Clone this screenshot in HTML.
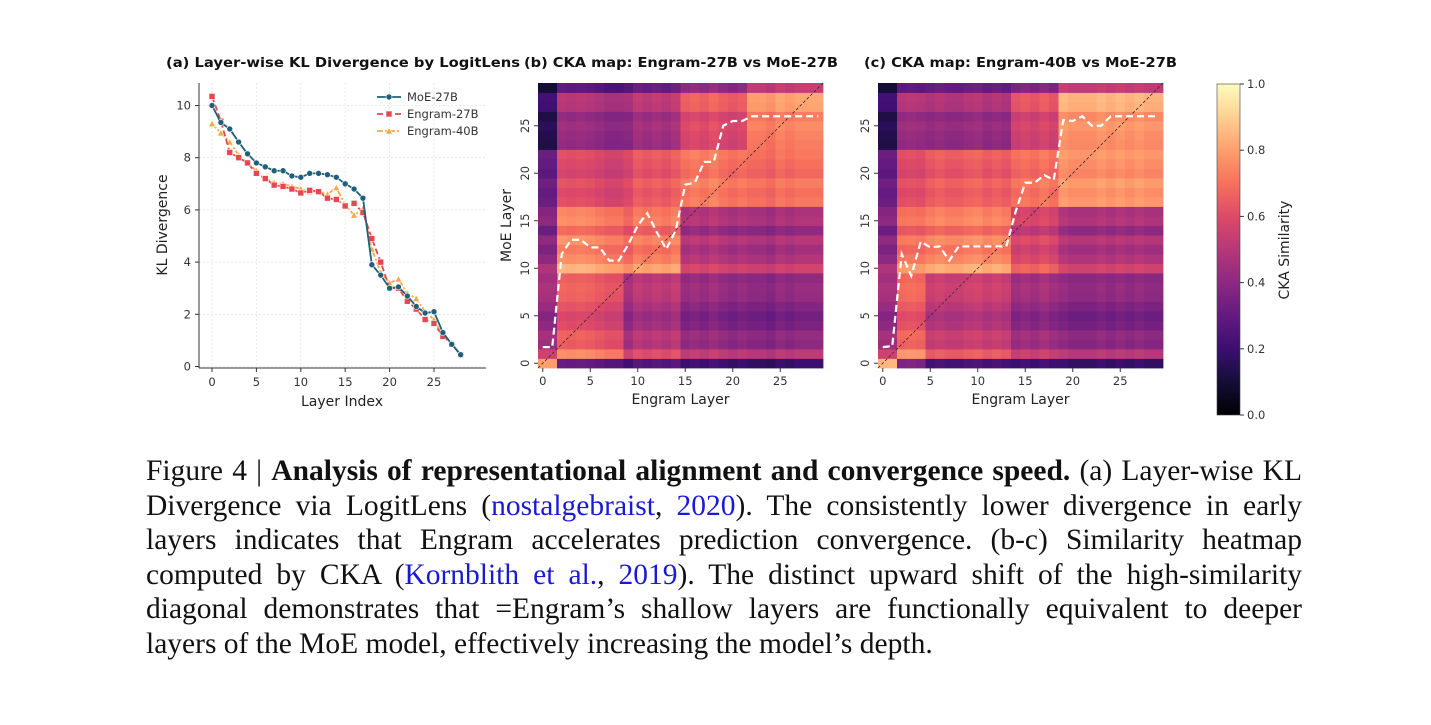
<!DOCTYPE html>
<html><head><meta charset="utf-8">
<style>
html,body{margin:0;padding:0;background:#fff;}
body{width:1431px;height:725px;position:relative;overflow:hidden;}
svg{position:absolute;left:0;top:0;}
.cap{position:absolute;left:146px;width:1156px;font-family:"Liberation Serif",serif;font-size:29.5px;color:#111;white-space:nowrap;text-align:justify;text-align-last:justify;line-height:30px;}
.cap.last{text-align-last:left;}
.cap a{color:#1a1ad6;text-decoration:none;}
</style></head><body>
<svg id="fig" width="1431" height="725" font-family="DejaVu Sans, Liberation Sans, sans-serif"></svg>
<div class="cap" style="top:456px">Figure 4 | <b>Analysis of representational alignment and convergence speed.</b> (a) Layer-wise KL</div>
<div class="cap" style="top:491px">Divergence via LogitLens (<a>nostalgebraist</a>, <a>2020</a>). The consistently lower divergence in early</div>
<div class="cap" style="top:525px">layers indicates that Engram accelerates prediction convergence. (b-c) Similarity heatmap</div>
<div class="cap" style="top:560px">computed by CKA (<a>Kornblith et al.</a>, <a>2019</a>). The distinct upward shift of the high-similarity</div>
<div class="cap" style="top:594px">diagonal demonstrates that =Engram’s shallow layers are functionally equivalent to deeper</div>
<div class="cap last" style="top:629px">layers of the MoE model, effectively increasing the model’s depth.</div>
<script>
// ---- Chart (a) data ----
const klLayers = [0,1,2,3,4,5,6,7,8,9,10,11,12,13,14,15,16,17,18,19,20,21,22,23,24,25,26,27,28];
const klMoE27 = [10.0,9.35,9.1,8.6,8.15,7.8,7.65,7.5,7.5,7.3,7.25,7.4,7.4,7.35,7.25,7.0,6.8,6.45,3.9,3.5,3.0,3.05,2.7,2.3,2.05,2.1,1.3,0.85,0.45];
const klEngram27 = [10.35,9.4,8.2,8.0,7.8,7.4,7.2,6.95,6.9,6.8,6.65,6.75,6.7,6.45,6.4,6.15,6.25,5.9,4.9,4.0,3.0,3.0,2.5,2.2,1.8,1.65,1.15,0.85,0.45];
const klEngram40 = [9.3,8.95,8.6,8.1,7.8,7.5,7.2,7.05,7.0,6.9,6.8,6.7,6.7,6.6,6.85,6.2,5.8,6.05,4.5,3.6,3.2,3.35,2.8,2.6,2.1,1.8,1.15,0.9,0.45];
const klXTicks = [0,5,10,15,20,25];
const klYTicks = [0,2,4,6,8,10];
// ---- Heatmap data (block levels: rows bottom->top bands, cols left->right bands) ----
const hbRowBands = [[0,0],[1,9],[10,16],[17,22],[23,28],[29,29]];
const hbColBands = [[0,1],[2,8],[9,14],[15,21],[22,29]];
const hbLevels = [[0.80,0.28,0.25,0.20,0.18],[0.44,0.62,0.48,0.40,0.38],[0.38,0.72,0.70,0.47,0.45],[0.30,0.57,0.62,0.70,0.68],[0.16,0.42,0.45,0.60,0.74],[0.10,0.26,0.30,0.40,0.52]];
const hbRowJit = [0,0.12,0,0.02,-0.04,-0.06,-0.02,0.02,0.03,0.01,0.1,0.02,-0.02,0.03,-0.06,0.02,0,0.02,0,0.03,-0.02,0,0.02,-0.03,-0.02,0,-0.03,0.05,0.06,0];
const hbColJit = [0,0,0.03,0.02,0.03,0.02,0,-0.02,-0.02,-0.04,0.02,0,0.02,0,0.03,0,0.02,0,0.03,0,-0.02,0,0,0,-0.02,0.02,0,0.02,0.02,0.02];
const hbPath = [1.7,1.7,11.5,13,13,12.2,12.2,10.8,10.8,12.5,14.5,15.8,13.8,12,14,18.8,19,21.2,21.2,25,25.5,25.5,26,26,26,26,26,26,26,26];
const hcRowBands = [[0,0],[1,9],[10,16],[17,22],[23,28],[29,29]];
const hcColBands = [[0,1],[2,4],[5,13],[14,18],[19,29]];
const hcLevels = [[0.85,0.34,0.22,0.20,0.18],[0.44,0.64,0.52,0.42,0.38],[0.38,0.67,0.72,0.56,0.46],[0.30,0.57,0.63,0.68,0.76],[0.16,0.42,0.42,0.57,0.78],[0.10,0.26,0.30,0.36,0.52]];
const hcRowJit = hbRowJit;
const hcColJit = [0,0,0.02,0.03,0.02,0,0.02,0,0,0.02,0.03,0,0.02,0,0,0.02,0,0.03,0,0.02,0,0,0,0.02,0,0.02,0,0.02,0,0];
const hcPath = [1.7,1.8,11.5,9.2,12.8,12.2,12.3,10.8,12.3,12.3,12.3,12.3,12.3,12.3,16,19,19,19.8,19.3,25.6,25.5,26,25,25,26,26,26,26,26,26];
const hmTicks = [0,5,10,15,20,25];
const cbTicks = [0,0.2,0.4,0.6,0.8,1.0];

const NS="http://www.w3.org/2000/svg";
const svg=document.getElementById('fig');
function mk(tag,attrs,parent,txt){const e=document.createElementNS(NS,tag);for(const k in attrs)e.setAttribute(k,attrs[k]);if(txt!==undefined)e.textContent=txt;(parent||svg).appendChild(e);return e;}
const magma=[[0,0,4],[20,14,54],[59,15,112],[100,26,128],[140,41,129],[183,55,121],[222,73,104],[247,112,92],[254,159,109],[254,207,146],[252,253,191]];
function cmap(v){v=Math.max(0,Math.min(1,v));const t=v*10,i=Math.min(9,Math.floor(t)),f=t-i;const a=magma[i],b=magma[i+1];return `rgb(${Math.round(a[0]+(b[0]-a[0])*f)},${Math.round(a[1]+(b[1]-a[1])*f)},${Math.round(a[2]+(b[2]-a[2])*f)})`;}

// titles
let t;
t=mk('text',{x:166,y:67,'font-size':13.5,'font-weight':'bold',textLength:354,lengthAdjust:'spacingAndGlyphs',fill:'#111'},svg,'(a) Layer-wise KL Divergence by LogitLens');

t=mk('text',{x:524,y:67,'font-size':13.5,'font-weight':'bold',textLength:314,lengthAdjust:'spacingAndGlyphs',fill:'#111'},svg,'(b) CKA map: Engram-27B vs MoE-27B');

t=mk('text',{x:864,y:67,'font-size':13.5,'font-weight':'bold',textLength:313,lengthAdjust:'spacingAndGlyphs',fill:'#111'},svg,'(c) CKA map: Engram-40B vs MoE-27B');


// ---- Chart (a) ----
const ax={x0:199,x1:486,y0:368,y1:83};
const sx=v=>212+v*8.88, sy=v=>366.5-v*26.1;
const ga=mk('g',{});

klXTicks.forEach(v=>{const g=mk('line',{x1:sx(v),x2:sx(v),y1:ax.y1,y2:ax.y0,stroke:'#e4e4e4','stroke-width':0.8,'stroke-dasharray':'2,2'},ga);
 mk('line',{x1:sx(v),x2:sx(v),y1:ax.y0,y2:ax.y0+4,stroke:'#333'},ga);
 const l=mk('text',{x:sx(v),y:ax.y0+18,'font-size':11.5,'text-anchor':'middle',fill:'#333'},ga,String(v));});
klYTicks.forEach(v=>{const g=mk('line',{x1:ax.x0,x2:ax.x1,y1:sy(v),y2:sy(v),stroke:'#e4e4e4','stroke-width':0.8,'stroke-dasharray':'2,2'},ga);
 mk('line',{x1:ax.x0-4,x2:ax.x0,y1:sy(v),y2:sy(v),stroke:'#333'},ga);
 const l=mk('text',{x:ax.x0-8,y:sy(v)+4,'font-size':11.5,'text-anchor':'end',fill:'#333'},ga,String(v));});
mk('line',{x1:ax.x0,x2:ax.x0,y1:ax.y1,y2:ax.y0,stroke:'#333','stroke-width':1},ga);
mk('line',{x1:ax.x0,x2:ax.x1,y1:ax.y0,y2:ax.y0,stroke:'#333','stroke-width':1},ga);
t=mk('text',{x:342,y:406,'font-size':14,'text-anchor':'middle',fill:'#222'},ga,'Layer Index');
t=mk('text',{x:0,y:0,'font-size':14,'text-anchor':'middle',fill:'#222',transform:'translate(167,225) rotate(-90)'},ga,'KL Divergence');
const series=[{d:klMoE27,c:'#1f5f7a',dash:'',m:'circle',n:'moe-27b'},{d:klEngram27,c:'#e5474f',dash:'6,3',m:'square',n:'engram-27b'},{d:klEngram40,c:'#f3aa45',dash:'6,2,2,2',m:'tri',n:'engram-40b'}];
function marker(type,x,y,c,parent){if(type==='circle')return mk('circle',{cx:x,cy:y,r:3,fill:c,stroke:'#fff','stroke-width':0.6},parent);
 if(type==='square')return mk('rect',{x:x-3,y:y-3,width:6,height:6,fill:c,stroke:'#fff','stroke-width':0.6},parent);
 return mk('polygon',{points:`${x},${y-3.5} ${x-3.5},${y+3} ${x+3.5},${y+3}`,fill:c,stroke:'#fff','stroke-width':0.6},parent);}
series.slice().reverse().forEach(s=>{
 const pts=s.d.map((v,i)=>sx(klLayers[i])+','+sy(v)).join(' ');
 const pl=mk('polyline',{points:pts,fill:'none',stroke:s.c,'stroke-width':1.8,'stroke-dasharray':s.dash},ga);
 
 s.d.forEach((v,i)=>{const m=marker(s.m,sx(klLayers[i]),sy(v),s.c,ga);});
});
const lg=mk('g',{},ga);
series.forEach((s,i)=>{const y=97+i*17;
 mk('line',{x1:377,x2:401,y1:y,y2:y,stroke:s.c,'stroke-width':1.8,'stroke-dasharray':s.dash},lg);
 marker(s.m,389,y,s.c,lg);
 const l=mk('text',{x:407,y:y+4,'font-size':11.5,fill:'#333'},lg,['MoE-27B','Engram-27B','Engram-40B'][i]);});

// ---- Heatmaps ----
function heatmap(x0,y0,size,rowBands,colBands,levels,rowJit,colJit,path,name,showYTitle){
 const g=mk('g',{});
 const n=30,cs=size/n;
 const band=(bands,i)=>bands.findIndex(b=>i>=b[0]&&i<=b[1]);
 const cx=i=>x0+(i+0.5)*cs, cy=j=>y0+size-(j+0.5)*cs;
 for(let r=0;r<n;r++)for(let c=0;c<n;c++){
  const v=levels[band(rowBands,r)][band(colBands,c)]+rowJit[r]+colJit[c];
  const cell=mk('rect',{x:(x0+c*cs).toFixed(2),y:(y0+size-(r+1)*cs).toFixed(2),width:(cs+0.4).toFixed(2),height:(cs+0.4).toFixed(2),fill:cmap(v)},g);
  }
 const dg=mk('line',{x1:x0,y1:y0+size,x2:x0+size,y2:y0,stroke:'#3a2a2a','stroke-width':0.8,'stroke-dasharray':'3,2'},g);
 
 const pl=mk('polyline',{points:path.map((v,i)=>cx(i)+','+cy(v)).join(' '),fill:'none',stroke:'#fff','stroke-width':2.2,'stroke-dasharray':'7,4'},g);
 
 hmTicks.forEach(v=>{
  mk('line',{x1:cx(v),x2:cx(v),y1:y0+size,y2:y0+size+4,stroke:'#333'},g);
  const l=mk('text',{x:cx(v),y:y0+size+17,'font-size':11.5,'text-anchor':'middle',fill:'#333'},g,String(v));
  mk('line',{x1:x0-4,x2:x0,y1:cy(v),y2:cy(v),stroke:'#333'},g);
  const m=mk('text',{x:0,y:0,'font-size':11.5,'text-anchor':'middle',fill:'#333',transform:`translate(${x0-9},${cy(v)}) rotate(-90)`},g,String(v));});
 const xt=mk('text',{x:x0+size/2,y:y0+size+36,'font-size':14,'text-anchor':'middle',fill:'#222'},g,'Engram Layer');
 if(showYTitle){const yt=mk('text',{x:0,y:0,'font-size':14,'text-anchor':'middle',fill:'#222',transform:`translate(${x0-27},${y0+size/2}) rotate(-90)`},g,'MoE Layer');}
}
heatmap(538,83,285,hbRowBands,hbColBands,hbLevels,hbRowJit,hbColJit,hbPath,'cka-heatmap-b',true);
heatmap(878,83,285,hcRowBands,hcColBands,hcLevels,hcRowJit,hcColJit,hcPath,'cka-heatmap-c',false);

// ---- Colorbar ----
const cg=mk('g',{});
const defs=mk('defs',{},cg);const lgd=mk('linearGradient',{id:'mg',x1:0,y1:1,x2:0,y2:0},defs);
magma.forEach((c,i)=>mk('stop',{offset:i/10,'stop-color':`rgb(${c})`},lgd));
const cbY0=84,cbY1=415;
mk('rect',{x:1217,y:cbY0,width:23,height:cbY1-cbY0,fill:'url(#mg)',stroke:'#444','stroke-width':0.6},cg);
cbTicks.forEach(v=>{const y=cbY1-v*(cbY1-cbY0);
 mk('line',{x1:1240,x2:1244,y1:y,y2:y,stroke:'#333'},cg);
 const l=mk('text',{x:1247,y:y+4,'font-size':11.5,fill:'#333'},cg,v.toFixed(1));});
t=mk('text',{x:0,y:0,'font-size':14,'text-anchor':'middle',fill:'#222',transform:'translate(1289,250) rotate(-90)'},cg,'CKA Similarity');
</script>
</body></html>
